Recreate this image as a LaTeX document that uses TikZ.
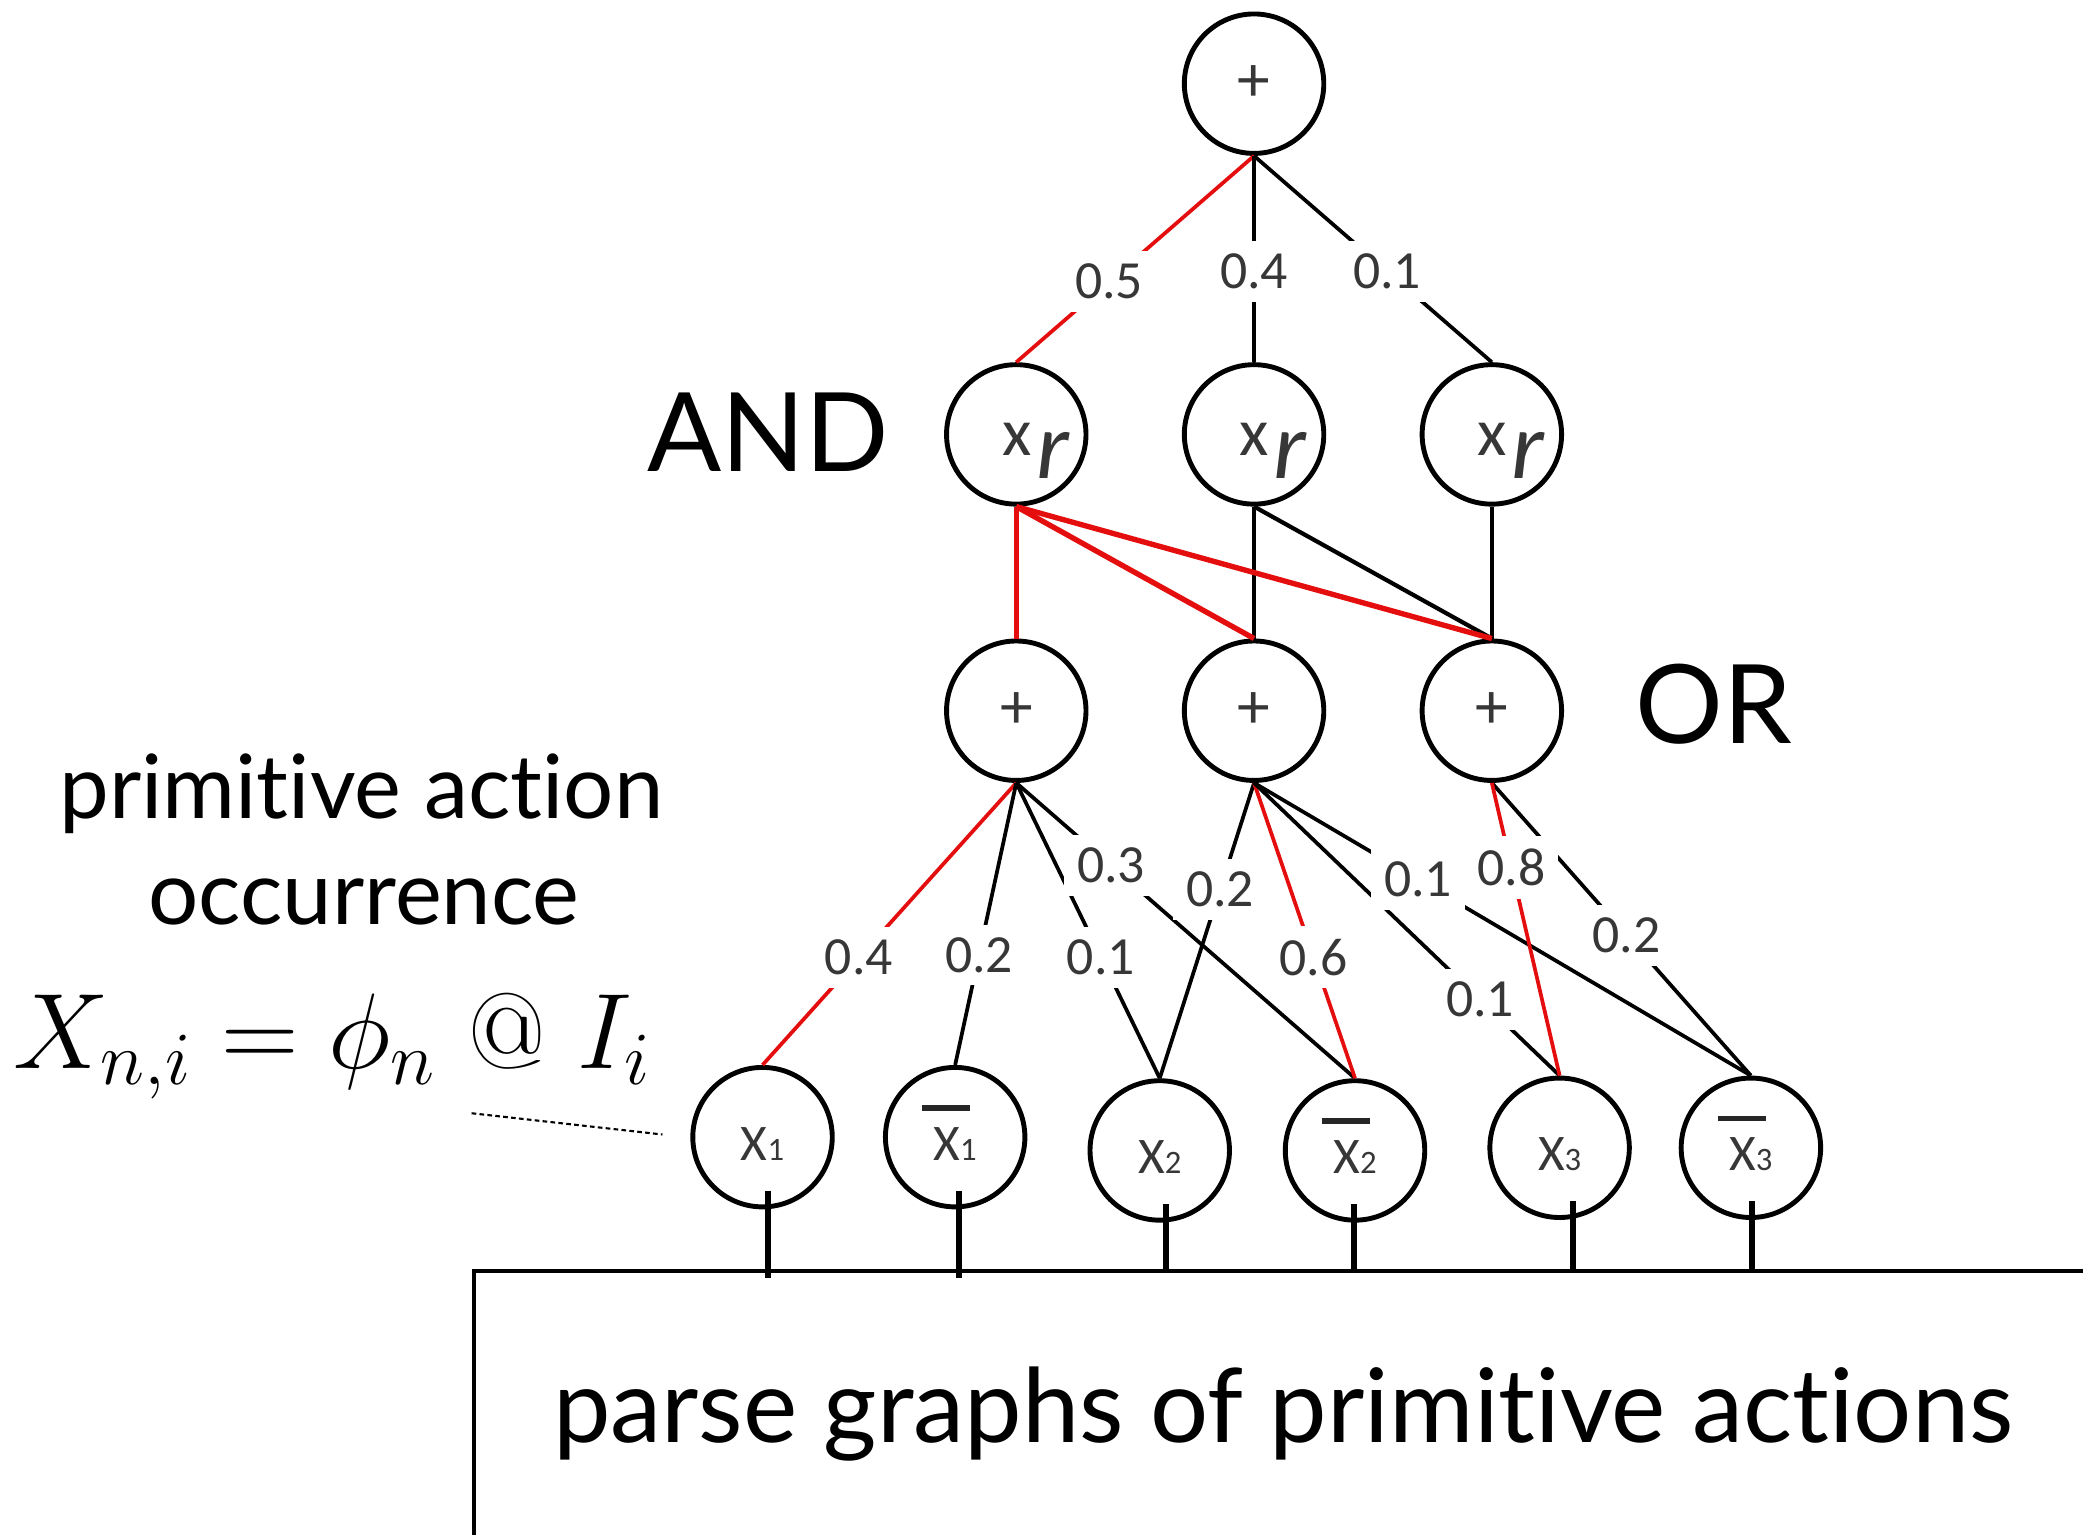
\RequirePackage{fix-cm}
\documentclass[tikz,border=0pt]{standalone}
\usepackage[no-math]{fontspec}
\newfontfamily\humanist[Ligatures={NoCommon,NoContextual}]{Lato}
\newfontfamily\calfont{Carlito}
\usetikzlibrary{calc}
\definecolor{pathred}{RGB}{228,14,14}
\definecolor{inkgray}{RGB}{55,55,55}
% symbol x_r inside an AND node
\newcommand\xrsym{{\color{inkgray}\fontsize{29}{29}\selectfont x}\kern2pt\raisebox{-9.8pt}{\fontsize{41}{41}\selectfont\itshape r}}
% leaf symbol X with a small index digit
\newcommand\leafsym[1]{{\fontsize{22}{22}\selectfont X}{\fontsize{14}{14}\selectfont #1}}
\begin{document}
\begin{tikzpicture}[x=0.02cm,y=-0.02cm,
  gate/.style={circle,draw=black,line width=2.1pt,minimum size=2.1cm,inner sep=0pt,
    font=\calfont\fontsize{28}{28}\selectfont,text=inkgray},
  wire/.style={line width=1.6pt,black},
  hot/.style={line width=1.6pt,pathred},
  thickwire/.style={line width=1.8pt,black},
  thickhot/.style={line width=2.3pt,pathred},
  prob/.style={fill=white,inner sep=5.5pt,font=\calfont\fontsize{23}{23}\selectfont,text=inkgray},
  symtext/.style={inner sep=0pt,font=\calfont,text=inkgray},
  negbar/.style={line width=2.4pt,black!85},
  stub/.style={line width=2.5pt,black},
  frame/.style={line width=1.7pt,black},
  bigword/.style={anchor=base,font=\humanist\fontsize{47}{47}\selectfont},
  sideword/.style={anchor=base,font=\humanist\fontsize{38}{38}\selectfont},
  leader/.style={line width=0.9pt,dash pattern=on 2pt off 1.4pt}]

\useasboundingbox (0,0) rectangle (1568,1155);

% ---- nodes ----
\node[gate] (top) at (944,63) {+};

\node[gate] (xr1) at (765,327) {};
\node[gate] (xr2) at (944,327) {};
\node[gate] (xr3) at (1123,327) {};

\node[gate] (p1) at (765,535) {+};
\node[gate] (p2) at (944,535) {+};
\node[gate] (p3) at (1123,535) {+};

\node[gate] (v1) at (574,856) {};
\node[gate] (v2) at (719,856) {};
\node[gate] (v3) at (873,866) {};
\node[gate] (v4) at (1020,866) {};
\node[gate] (v5) at (1174,864) {};
\node[gate] (v6) at (1318,864) {};

% symbols inside the AND nodes
\foreach \g in {xr1,xr2,xr3}
  \node[symtext,anchor=base west] (\g t) at ($(\g.center)+(-11,16)$) {\xrsym};

% symbols inside the leaf nodes
\node[symtext] (v1t) at ($(v1.center)+(0,5)$) {\leafsym{1}};
\node[symtext] (v2t) at ($(v2.center)+(0,5)$) {\leafsym{1}};
\node[symtext] (v3t) at ($(v3.center)+(0,5)$) {\leafsym{2}};
\node[symtext] (v4t) at ($(v4.center)+(0,5)$) {\leafsym{2}};
\node[symtext] (v5t) at ($(v5.center)+(0,5)$) {\leafsym{3}};
\node[symtext] (v6t) at ($(v6.center)+(0,5)$) {\leafsym{3}};
% negation bars
\foreach \g in {v2,v4,v6}
  \draw[negbar] ($(\g.center)+(-25,-22)$) -- ($(\g.center)+(11,-22)$);

% ---- root to AND nodes ----
\draw[hot]  (top.south) -- node[prob,pos=0.61]{0.5} (xr1.north);
\draw[wire] (top.south) -- node[prob,pos=0.56]{0.4} (xr2.north);
\draw[wire] (top.south) -- node[prob,pos=0.56]{0.1} (xr3.north);

% ---- AND nodes to OR nodes ----
\draw[thickwire] (xr2.south) -- (p2.north);
\draw[thickwire] (xr2.south) -- (p3.north);
\draw[thickwire] (xr3.south) -- (p3.north);
\draw[thickhot] (xr1.south) -- (p1.north);
\draw[thickhot] (xr1.south) -- (p2.north);
\draw[thickhot] (xr1.south) -- (p3.north);

% ---- OR nodes to leaves ----
\draw[hot]  (p1.south) -- node[prob,pos=0.62]{0.4} (v1.north);
\draw[wire] (p1.south) -- node[prob,pos=0.61]{0.2} (v2.north);
\draw[wire] (p1.south) -- node[prob,pos=0.59]{0.1} (v3.north);
\draw[wire] (p1.south) -- node[prob,pos=0.28]{0.3} (v4.north);

\draw[wire] (p2.south) -- node[prob,pos=0.36]{0.2} (v3.north);
\draw[hot]  (p2.south) -- node[prob,pos=0.59]{0.6} (v4.north);
\draw[wire] (p2.south) -- node[prob,pos=0.74]{0.1} (v5.north);
\draw[wire] (p2.south) -- node[prob,pos=0.33]{0.1} (v6.north);

\draw[wire] (p3.south) -- node[prob,pos=0.52]{0.2} (v6.north);
\draw[hot]  (p3.south) -- node[prob,pos=0.29]{0.8} (v5.north);

% ---- parse-graph box and the stubs into it ----
\coordinate (boxtop) at (357,957);
\draw[frame] (357,1220) -- (boxtop) -- (1640,957);
\foreach \g/\dx/\ext in {v1/4/5, v2/3/5, v3/5/0, v4/-1/0, v5/10/0, v6/1/0}
  \draw[stub] let \p1=($(\g.south)+(\dx,-14)$), \p2=($(boxtop)+(0,\ext)$) in (\p1) -- (\x1,\y2);
\node[bigword,font=\humanist\fontsize{44}{44}\selectfont] (pgtext) at (966,1086) {parse graphs of primitive actions};

% ---- side labels ----
\node[bigword] (andlbl) at (578,355) {AND};
\node[bigword] (orlbl) at (1290,560) {OR};
\node[sideword] (occ1) at (272,616) {primitive action};
\node[sideword] (occ2) at (274,696) {occurrence};
\node[anchor=base,font=\fontsize{46}{48}\selectfont] (formula) at (250,804) {$X_{n,i} = \phi_n\ @\ I_i$};
\coordinate (leadstart) at (355,838);
\draw[leader] (leadstart) -- ($(v1.west)+(-21,-2)$);

\end{tikzpicture}
\end{document}
